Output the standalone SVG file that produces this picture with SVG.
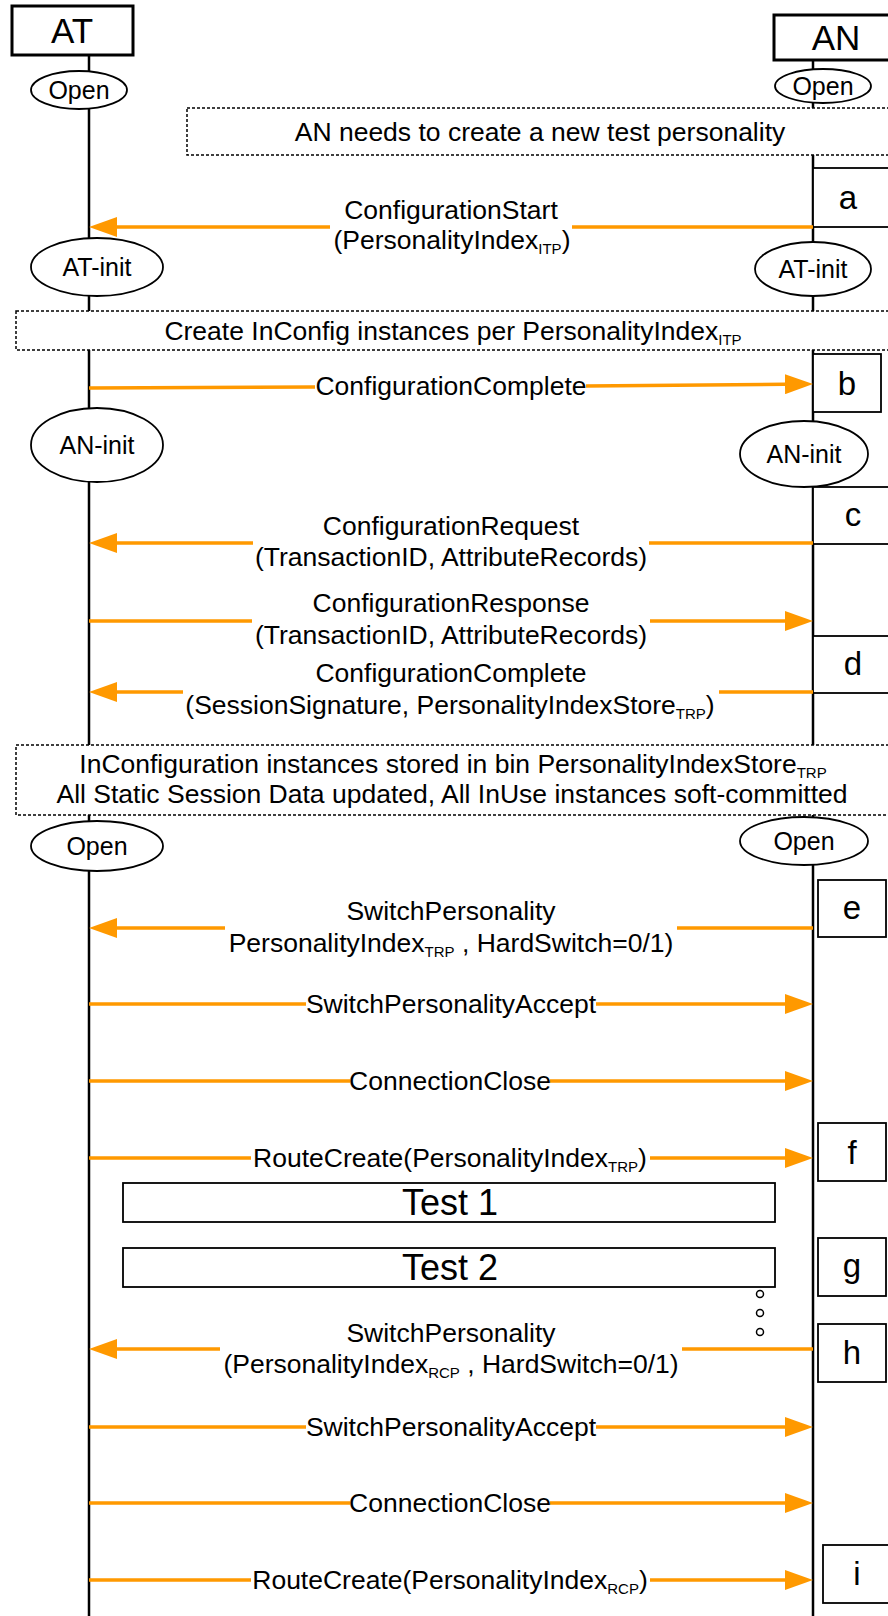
<svg xmlns="http://www.w3.org/2000/svg" width="888" height="1616" viewBox="0 0 888 1616">
<defs>
<style>
text{font-family:"Liberation Sans",Arial,sans-serif;fill:#000}
.msg{font-size:26.5px;text-anchor:middle}
.st{font-size:25px;text-anchor:middle}
.big{font-size:35px;text-anchor:middle}
.tst{font-size:36px;text-anchor:middle}
.lt{font-size:33px;text-anchor:middle}
.sub{font-size:15px}
.life{stroke:#000;stroke-width:2.5;fill:none}
.hdr{fill:#fff;stroke:#000;stroke-width:3}
.ell{fill:#fff;stroke:#000;stroke-width:1.8}
.box{fill:#fff;stroke:#000;stroke-width:1.8}
.dash{fill:#fff;stroke:#000;stroke-width:1.5;stroke-dasharray:3 2}
.arr{stroke:#FF9900;stroke-width:3.5;fill:none;marker-end:url(#ah)}
</style>
<marker id="ah" markerUnits="userSpaceOnUse" markerWidth="28" markerHeight="20" refX="22" refY="10" orient="auto">
<path d="M0,0 L28,10 L0,20 z" fill="#FF9900"/>
</marker>
</defs>
<rect width="888" height="1616" fill="#fff"/>
<g id="lifelines">
<line class="life" x1="89" y1="55" x2="89" y2="1616"/>
<line class="life" x1="813" y1="60" x2="813" y2="1616"/>
</g>
<g id="AT"><rect class="hdr" x="12" y="6" width="121" height="49"/><text class="big" x="72" y="43">AT</text></g>
<g id="AN"><rect class="hdr" x="774" y="15" width="124" height="45"/><text class="big" x="836" y="50">AN</text></g>
<g id="open-at-1"><ellipse class="ell" cx="79" cy="90" rx="48" ry="19"/><text class="st" x="79" y="99">Open</text></g>
<g id="open-an-1"><ellipse class="ell" cx="823" cy="86" rx="48" ry="17"/><text class="st" x="823" y="95">Open</text></g>
<g id="note-1"><rect class="dash" x="187" y="108" width="710" height="47"/><text class="msg" x="540" y="141">AN needs to create a new test personality</text></g>
<g id="box-a"><rect class="box" x="813" y="168" width="90" height="59"/><text class="lt" x="848" y="209">a</text></g>
<g id="atinit-at"><ellipse class="ell" cx="97" cy="267" rx="66" ry="29"/><text class="st" x="97" y="276">AT-init</text></g>
<g id="atinit-an"><ellipse class="ell" cx="813" cy="269" rx="58" ry="27"/><text class="st" x="813" y="278">AT-init</text></g>
<g id="note-2"><rect class="dash" x="16" y="311" width="885" height="39"/><text class="msg" x="453" y="340">Create InConfig instances per PersonalityIndex<tspan class="sub" dy="5">ITP</tspan></text></g>
<g id="box-b"><rect class="box" x="813" y="354" width="68" height="58"/><text class="lt" x="847" y="395">b</text></g>
<g id="aninit-at"><ellipse class="ell" cx="97" cy="445" rx="66" ry="37"/><text class="st" x="97" y="454">AN-init</text></g>
<g id="aninit-an"><ellipse class="ell" cx="804" cy="454" rx="64" ry="33"/><text class="st" x="804" y="463">AN-init</text></g>
<g id="box-c"><rect class="box" x="813" y="487" width="90" height="57"/><text class="lt" x="853" y="526">c</text></g>
<g id="box-d"><rect class="box" x="813" y="636" width="90" height="57"/><text class="lt" x="853" y="675">d</text></g>
<g id="note-3"><rect class="dash" x="16" y="745" width="885" height="70"/>
<text class="msg" x="453" y="773">InConfiguration instances stored in bin PersonalityIndexStore<tspan class="sub" dy="5">TRP</tspan></text>
<text class="msg" x="452" y="803">All Static Session Data updated, All InUse instances soft-committed</text></g>
<g id="open-at-2"><ellipse class="ell" cx="97" cy="846" rx="66" ry="25"/><text class="st" x="97" y="855">Open</text></g>
<g id="open-an-2"><ellipse class="ell" cx="804" cy="841" rx="64" ry="24"/><text class="st" x="804" y="850">Open</text></g>
<g id="box-e"><rect class="box" x="818" y="880" width="68" height="57"/><text class="lt" x="852" y="919">e</text></g>
<g id="box-f"><rect class="box" x="818" y="1123" width="68" height="58"/><text class="lt" x="852" y="1164">f</text></g>
<g id="test-1"><rect class="box" x="123" y="1183" width="652" height="39"/><text class="tst" x="450" y="1215">Test 1</text></g>
<g id="test-2"><rect class="box" x="123" y="1248" width="652" height="39"/><text class="tst" x="450" y="1280">Test 2</text></g>
<g id="ellipsis" fill="none" stroke="#000" stroke-width="1.5"><circle cx="760" cy="1294" r="3.5"/><circle cx="760" cy="1313" r="3.5"/><circle cx="760" cy="1332" r="3.5"/></g>
<g id="box-g"><rect class="box" x="818" y="1238" width="68" height="58"/><text class="lt" x="852" y="1277">g</text></g>
<g id="box-h"><rect class="box" x="818" y="1324" width="68" height="58"/><text class="lt" x="852" y="1364">h</text></g>
<g id="box-i"><rect class="box" x="823" y="1545" width="75" height="58"/><text class="lt" x="857" y="1585">i</text></g>
<g id="connectors">
<path class="arr" d="M813,227 H572 M330,227 H95"/>
<path class="arr" d="M89,388 L315,387 M586,386 L807,384"/>
<path class="arr" d="M813,543 H649 M253,543 H95"/>
<path class="arr" d="M89,621 H252 M650,621 H807"/>
<path class="arr" d="M813,692 H719 M183,692 H95"/>
<path class="arr" d="M813,928 H677 M225,928 H95"/>
<path class="arr" d="M89,1004 H306 M596,1004 H807"/>
<path class="arr" d="M89,1081 H350 M550,1081 H807"/>
<path class="arr" d="M89,1158 H251 M650,1158 H807"/>
<path class="arr" d="M813,1349 H682 M220,1349 H95"/>
<path class="arr" d="M89,1427 H306 M596,1427 H807"/>
<path class="arr" d="M89,1503 H350 M550,1503 H807"/>
<path class="arr" d="M89,1580 H251 M650,1580 H807"/>
</g>
<g id="labels">
<text class="msg" x="451" y="219">ConfigurationStart</text>
<text class="msg" x="452" y="249">(PersonalityIndex<tspan class="sub" dy="5">ITP</tspan><tspan dy="-5">)</tspan></text>
<text class="msg" x="451" y="395">ConfigurationComplete</text>
<text class="msg" x="451" y="535">ConfigurationRequest</text>
<text class="msg" x="451" y="566">(TransactionID, AttributeRecords)</text>
<text class="msg" x="451" y="612">ConfigurationResponse</text>
<text class="msg" x="451" y="644">(TransactionID, AttributeRecords)</text>
<text class="msg" x="451" y="682">ConfigurationComplete</text>
<text class="msg" x="450" y="714">(SessionSignature, PersonalityIndexStore<tspan class="sub" dy="5">TRP</tspan><tspan dy="-5">)</tspan></text>
<text class="msg" x="451" y="920">SwitchPersonality</text>
<text class="msg" x="451" y="952">PersonalityIndex<tspan class="sub" dy="5">TRP</tspan><tspan dy="-5"> , HardSwitch=0/1)</tspan></text>
<text class="msg" x="451" y="1013">SwitchPersonalityAccept</text>
<text class="msg" x="450" y="1090">ConnectionClose</text>
<text class="msg" x="450" y="1167">RouteCreate(PersonalityIndex<tspan class="sub" dy="5">TRP</tspan><tspan dy="-5">)</tspan></text>
<text class="msg" x="451" y="1342">SwitchPersonality</text>
<text class="msg" x="451" y="1373">(PersonalityIndex<tspan class="sub" dy="5">RCP</tspan><tspan dy="-5"> , HardSwitch=0/1)</tspan></text>
<text class="msg" x="451" y="1436">SwitchPersonalityAccept</text>
<text class="msg" x="450" y="1512">ConnectionClose</text>
<text class="msg" x="450" y="1589">RouteCreate(PersonalityIndex<tspan class="sub" dy="5">RCP</tspan><tspan dy="-5">)</tspan></text>
</g>
</svg>
